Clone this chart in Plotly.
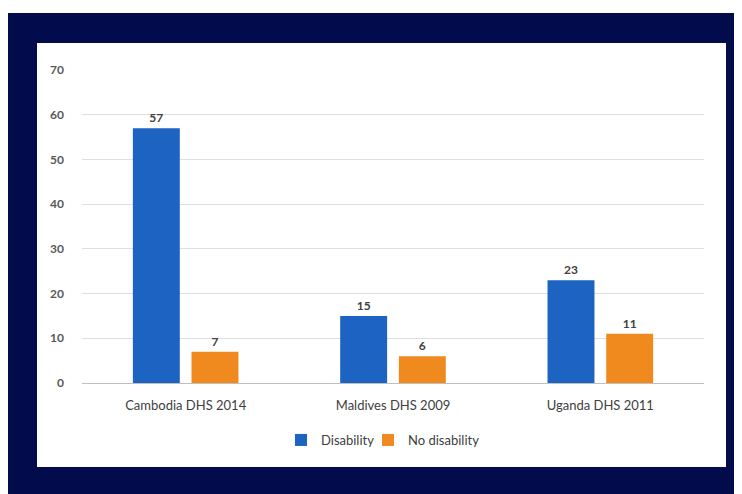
import plotly.graph_objects as go

categories = ["Cambodia DHS 2014", "Maldives DHS 2009", "Uganda DHS 2011"]
disability = [57, 15, 23]
no_disability = [7, 6, 11]
y_ticks = [0, 10, 20, 30, 40, 50, 60, 70]

# page is rendered with an 8px body margin -> work in paper pixels
OFF = 8
W, H = 742 - OFF, 494 - OFF
L, R, T, B = 82 - OFF, 704 - OFF, 70 - OFF, 383 - OFF

def px(x):
    return (x - OFF - L) / (R - L)

def py(y):
    return (B - (y - OFF)) / (B - T)

FONT = "Lato"

fig = go.Figure()
fig.add_trace(go.Bar(
    name="Disability", x=categories, y=disability,
    marker=dict(color="#1c63c2", line=dict(width=0)),
    text=disability, textposition="outside", cliponaxis=False,
    textfont=dict(size=12, color="#404040", family=FONT, weight="bold"),
    legend="legend",
))
fig.add_trace(go.Bar(
    name="No disability", x=categories, y=no_disability,
    marker=dict(color="#f08a1f", line=dict(width=0)),
    text=no_disability, textposition="outside", cliponaxis=False,
    textfont=dict(size=12, color="#404040", family=FONT, weight="bold"),
    legend="legend2",
))

shapes = [
    dict(type="rect", xref="paper", yref="paper", layer="below",
         x0=px(0), x1=px(780), y0=py(13), y1=py(510),
         fillcolor="#020c4c", line=dict(width=0)),
    dict(type="rect", xref="paper", yref="paper", layer="below",
         x0=px(37), x1=px(726), y0=py(43), y1=py(467),
         fillcolor="#ffffff", line=dict(width=0)),
]

legend_style = dict(orientation="h", xanchor="left", yanchor="middle",
                    y=py(440), font=dict(size=13, color="#404040"),
                    itemwidth=30, bgcolor="rgba(0,0,0,0)")

fig.update_layout(
    width=W, height=H,
    margin=dict(l=L, r=W - R, t=T, b=H - B, pad=0),
    paper_bgcolor="#ffffff",
    plot_bgcolor="rgba(0,0,0,0)",
    barmode="group", bargap=0.434, bargroupgap=0.2,
    font=dict(family=FONT, color="#404040"),
    shapes=shapes,
    showlegend=True,
    legend=dict(x=px(281), **legend_style),
    legend2=dict(x=px(368), **legend_style),
    xaxis=dict(showgrid=False, showline=True, linecolor="#bfbfbf", linewidth=1,
               ticks="", tickfont=dict(size=13, color="#404040"),
               ticklabelstandoff=10),
    yaxis=dict(range=[0, 70], tickvals=y_ticks, showgrid=True,
               gridcolor="#dedede", gridwidth=1, zeroline=False,
               showline=False, ticks="",
               tickfont=dict(size=12, color="#595959", weight="bold"),
               ticklabelstandoff=17),
)

fig.write_html("out.html")
